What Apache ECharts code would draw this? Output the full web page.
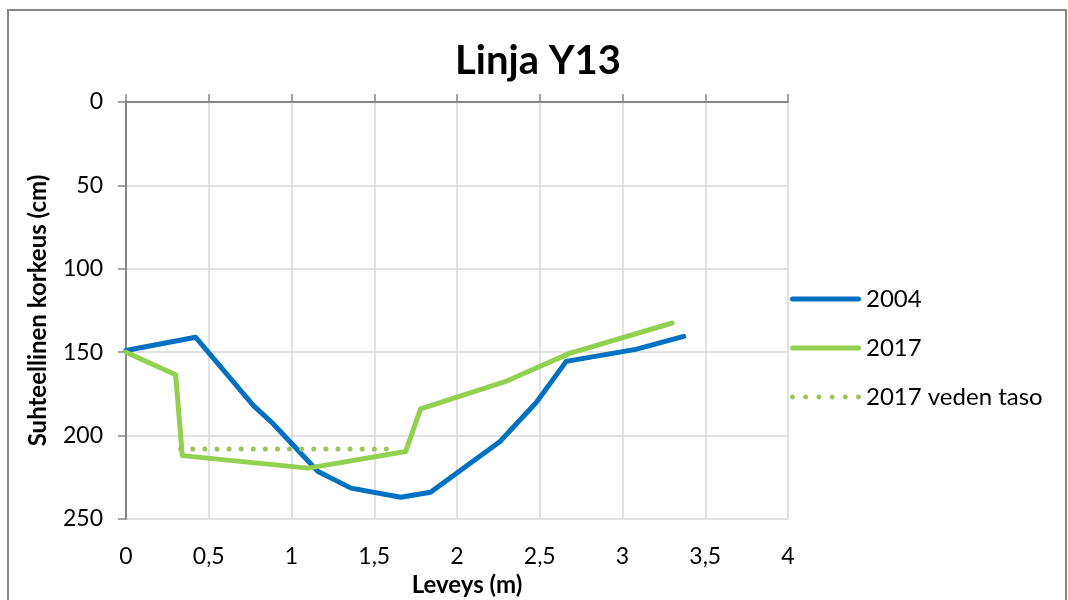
<!DOCTYPE html>
<html>
<head>
<meta charset="utf-8">
<title>Linja Y13</title>
<script src="https://cdn.jsdelivr.net/npm/echarts@6/dist/echarts.min.js"></script>
<style>
  html, body { margin: 0; padding: 0; background: #fff; }
  #chart { width: 1068px; height: 600px; }
</style>
</head>
<body>
<div id="chart"></div>
<script>
// Cross-section profile of line Y13: width (m) vs. relative height (cm)
const seriesNames = ['2004', '2017', '2017 veden taso'];

const profile2004 = [
  [0, 149], [0.42, 141], [0.77, 182], [0.89, 193], [1.16, 221.5],
  [1.36, 231.5], [1.66, 237], [1.84, 234], [2.26, 203.5], [2.48, 180],
  [2.66, 155.5], [3.08, 148.3], [3.37, 140.5]
];

const profile2017 = [
  [0, 150], [0.30, 163.5], [0.34, 212], [1.10, 219.5], [1.69, 209.5],
  [1.78, 184], [2.30, 167.3], [2.68, 150.7], [3.30, 132.5]
];

const waterLevel2017 = [
  [0.33, 208], [1.62, 208]
];

const xTicks = { min: 0, max: 4, interval: 0.5 };
const yTicks = { min: 0, max: 250, interval: 50 };

const font = 'Lato, "Open Sans", sans-serif';
const axisGray = '#868686';
const gridGray = '#d9d9d9';
const blue = '#0070C0';
const green = '#92D050';
const dotGreen = '#9BC45A';

// Legend icons: a thick rounded bar, and a row of six round dots
const barIcon = 'path://M2.5,0h66a2.5,2.5 0 0 1 0,5h-66a2.5,2.5 0 0 1 0,-5z';
function dotsIcon(count, r, step) {
  const sides = 16;
  let d = '';
  for (let i = 0; i < count; i++) {
    const cx = r + i * step;
    for (let k = 0; k < sides; k++) {
      const a = (k / sides) * Math.PI * 2;
      const px = (cx + r * Math.cos(a)).toFixed(3);
      const py = (r + r * Math.sin(a)).toFixed(3);
      d += (k === 0 ? 'M' : 'L') + px + ',' + py;
    }
    d += 'Z';
  }
  return 'path://' + d;
}

const chart = echarts.init(document.getElementById('chart'), null, { renderer: 'canvas' });

chart.setOption({
  animation: false,
  backgroundColor: '#fff',
  graphic: [{
    type: 'rect',
    shape: { x: 8, y: 10, width: 1058, height: 600 },
    style: { fill: 'none', stroke: axisGray, lineWidth: 2 },
    silent: true
  }],
  title: {
    text: 'Linja Y13',
    left: 450,
    top: 36,
    textStyle: { fontFamily: font, fontWeight: 'bold', fontSize: 40, color: '#000' }
  },
  legend: {
    orient: 'vertical',
    left: 785,
    top: 282,
    itemWidth: 71,
    itemHeight: 5,
    itemGap: 25,
    textStyle: { fontFamily: font, fontSize: 24, color: '#000' },
    data: [
      { name: seriesNames[0], icon: barIcon },
      { name: seriesNames[1], icon: barIcon },
      { name: seriesNames[2], icon: dotsIcon(6, 2.5, 13.2) }
    ]
  },
  grid: {
    left: 126, right: 280, top: 102, bottom: 81,
    containLabel: false,
    outerBoundsMode: 'none'
  },
  xAxis: [
    {
      type: 'value',
      position: 'bottom',
      min: xTicks.min, max: xTicks.max, interval: xTicks.interval,
      name: 'Leveys (m)',
      nameLocation: 'middle',
      nameGap: 54,
      nameTextStyle: { fontFamily: font, fontWeight: 'bold', fontSize: 24, color: '#000', padding: [0, 0, 0, 20] },
      axisLine: { show: false },
      axisTick: { show: false },
      axisLabel: {
        margin: 26,
        fontFamily: font, fontSize: 23, color: '#000',
        formatter: v => String(v).replace('.', ',')
      },
      splitLine: { show: true, lineStyle: { color: gridGray, width: 1.5 } }
    },
    {
      type: 'value',
      position: 'top',
      min: xTicks.min, max: xTicks.max, interval: xTicks.interval,
      axisLine: { show: true, onZero: false, lineStyle: { color: axisGray, width: 2 } },
      axisTick: { show: true, length: 8, lineStyle: { color: axisGray, width: 1.5 } },
      axisLabel: { show: false },
      splitLine: { show: false }
    }
  ],
  yAxis: {
    type: 'value',
    inverse: true,
    min: yTicks.min, max: yTicks.max, interval: yTicks.interval,
    name: 'Suhteellinen korkeus (cm)',
    nameLocation: 'middle',
    nameGap: 76,
    nameTextStyle: { fontFamily: font, fontWeight: 'bold', fontSize: 24, color: '#000' },
    axisLine: { show: true, onZero: false, lineStyle: { color: axisGray, width: 2 } },
    axisTick: { show: true, length: 8, lineStyle: { color: axisGray, width: 1.5 } },
    axisLabel: { margin: 23, fontFamily: font, fontSize: 23, color: '#000' },
    splitLine: { show: true, lineStyle: { color: gridGray, width: 1.5 } }
  },
  series: [
    {
      name: seriesNames[0],
      type: 'line',
      data: profile2004,
      symbol: 'none',
      color: blue,
      lineStyle: { width: 5, color: blue, cap: 'round', join: 'round' }
    },
    {
      name: seriesNames[1],
      type: 'line',
      data: profile2017,
      symbol: 'none',
      color: green,
      lineStyle: { width: 5, color: green, cap: 'round', join: 'round' }
    },
    {
      name: seriesNames[2],
      type: 'line',
      data: waterLevel2017,
      symbol: 'none',
      color: dotGreen,
      lineStyle: { width: 5, color: dotGreen, type: [0.1, 12], cap: 'round' }
    }
  ]
});
</script>
</body>
</html>
